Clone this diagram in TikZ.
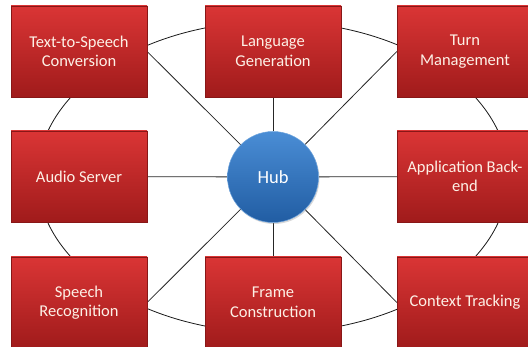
\documentclass[tikz,border=0pt]{standalone}
\usepackage{fontspec}
\setmainfont{Carlito}
\usetikzlibrary{shadows}
\definecolor{boxtop}{HTML}{DA3535}
\definecolor{boxbot}{HTML}{A01B1B}
\definecolor{hubtop}{HTML}{4A8DD5}
\definecolor{hubbot}{HTML}{215DA3}
\definecolor{boxtext}{HTML}{FDF0E6}
\pgfdeclarelayer{back}
\pgfsetlayers{back,main}

\begin{document}
\begin{tikzpicture}[x=1pt,y=-1pt,
  module/.style={
    rectangle, minimum width=136pt, minimum height=91pt, inner sep=0pt,
    top color=boxtop, bottom color=boxbot, draw=boxbot!85!black, line width=0.3pt,
    text=boxtext, align=center, font=\fontsize{16.5}{19.5}\selectfont,
    drop shadow={opacity=0.3, shadow xshift=1pt, shadow yshift=-1.5pt},
  },
  hubnode/.style={
    circle, minimum size=91pt, inner sep=0pt,
    top color=hubtop, bottom color=hubbot, draw=hubtop!80!white, line width=0.5pt,
    text=white, font=\fontsize{18.5}{22}\selectfont,
    drop shadow={opacity=0.3, shadow xshift=1pt, shadow yshift=-1.5pt},
  },
  link/.style={draw=black!85, line width=0.8pt},
  ring/.style={draw=black!90, line width=0.8pt}]
  \useasboundingbox (0,0) rectangle (528,347);
  \clip (0,0) rectangle (528,347);
  % modules
  \node[module] (tts) at (79,51.5) {Text-to-Speech\\Conversion};
  \node[module] (lg) at (273,51.5) {Language\\Generation};
  \node[module] (tm) at (465,51.5) {Turn\\Management};
  \node[module] (as) at (79,176.5) {Audio Server};
  \node[module] (ab) at (465,176.5) {Application Back-\\end};
  \node[module] (sr) at (79,302.5) {Speech\\Recognition};
  \node[module] (fc) at (273,302.5) {Frame\\Construction};
  \node[module] (ct) at (465,302.5) {Context Tracking};
  \node[hubnode] (hub) at (273,177) {Hub};
  % ring and spokes behind
  \begin{pgfonlayer}{back}
    \draw[ring] (hub.center) ellipse [x radius=235.5, y radius=155.6];
    \draw[link] (hub) -- (tts.east);
    \draw[link] (hub) -- (lg);
    \draw[link] (hub) -- (tm.west);
    \draw[link] (hub) -- (as);
    \draw[link] (hub) -- (ab);
    \draw[link] (hub) -- (sr.east);
    \draw[link] (hub) -- (fc);
    \draw[link] (hub) -- (ct.west);
  \end{pgfonlayer}
\end{tikzpicture}
\end{document}
